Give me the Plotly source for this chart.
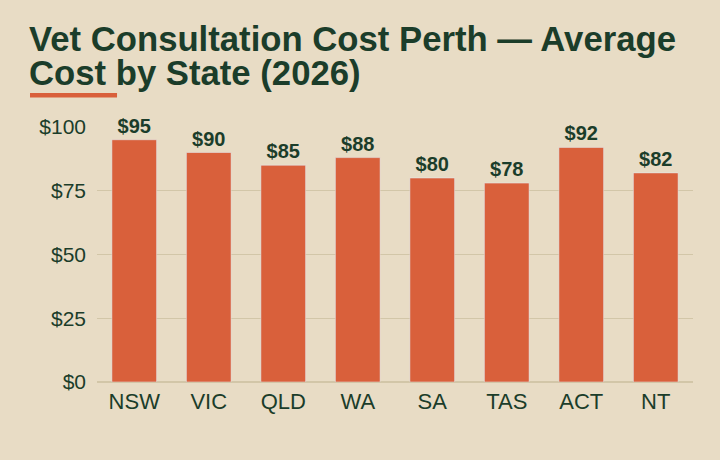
import plotly.graph_objects as go

states = ['NSW', 'VIC', 'QLD', 'WA', 'SA', 'TAS', 'ACT', 'NT']
avg_cost = [95, 90, 85, 88, 80, 78, 92, 82]
y_ticks = [0, 25, 50, 75, 100]
y_tick_labels = ['$0', '$25', '$50', '$75', '$100']

bg = '#E8DCC5'
bar_color = '#D9603B'
ink = '#1B3D2A'

fig = go.Figure()

fig.add_trace(go.Bar(x=states, y=avg_cost,
                     marker_color=bar_color,
                     text=['$%d' % v for v in avg_cost],
                     textposition='outside',
                     textfont=dict(family='Liberation Sans', size=20, color=ink, weight='bold'),
                     cliponaxis=False,
                     showlegend=False))

# plot area is 97..693 px wide, 127..382 px tall
fig.add_annotation(text='Vet Consultation Cost Perth \u2014 Average',
                   xref='paper', yref='paper', x=-0.117, y=1.345,
                   xanchor='left', yanchor='middle', showarrow=False,
                   font=dict(family='Liberation Sans', size=34.7, color=ink, weight='bold'))
fig.add_annotation(text='Cost by State (2026)',
                   xref='paper', yref='paper', x=-0.117, y=1.212,
                   xanchor='left', yanchor='middle', showarrow=False,
                   font=dict(family='Liberation Sans', size=34.7, color=ink, weight='bold'))

fig.add_shape(type='rect', xref='paper', yref='paper',
              x0=-0.1124, x1=0.0336, y0=1.116, y1=1.133,
              fillcolor=bar_color, line_width=0)

fig.update_layout(width=720, height=460,
                  paper_bgcolor=bg, plot_bgcolor=bg,
                  margin=dict(l=97, r=27, t=127, b=78),
                  bargap=0.4,
                  font=dict(family='Liberation Sans', color=ink))

fig.update_xaxes(tickfont=dict(size=22, color=ink), showgrid=False, showline=False, ticks='',
                 ticklabelstandoff=4)
fig.update_yaxes(range=[0, 100], tickvals=y_ticks, ticktext=y_tick_labels,
                 tickfont=dict(size=21, color=ink),
                 gridcolor='#D2C6A8', gridwidth=1, zeroline=True, zerolinecolor='#D2C6A8',
                 ticks='', ticklabelstandoff=10)

fig.write_html('out.html', config={'displayModeBar': False},
               post_script="document.body.style.margin='0';")
